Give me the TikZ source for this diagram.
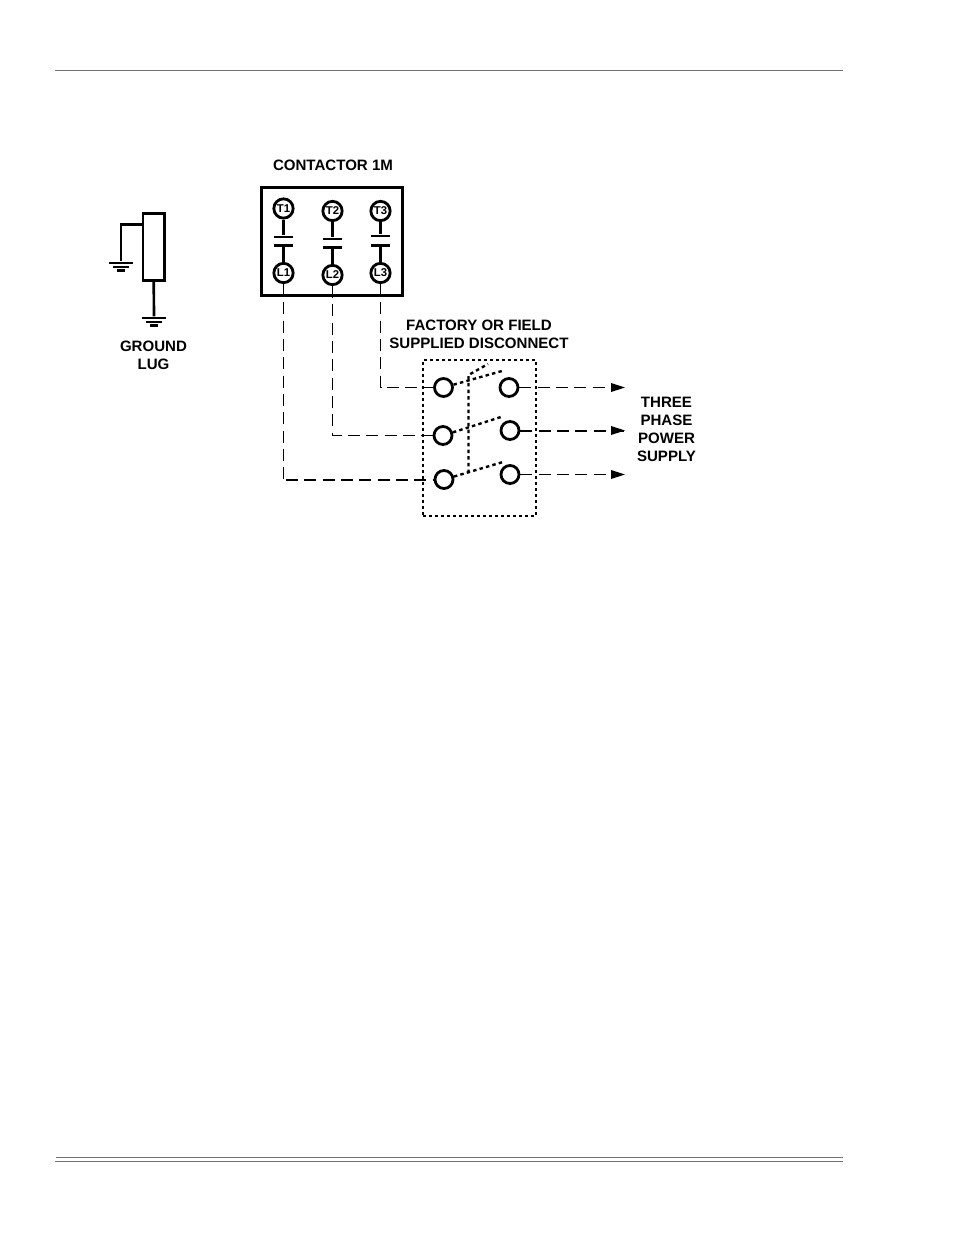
\documentclass[tikz,border=0pt]{standalone}
\usepackage{fontspec}
\setmainfont{Liberation Sans}
\tikzset{term/.style={circle,draw,line width=2.1pt,fill=white,inner sep=0pt,minimum size=14.5pt,font=\fontsize{8.5}{9}\selectfont\bfseries},
	 sw/.style={circle,draw,line width=2.1pt,fill=white,inner sep=0pt,minimum size=13.5pt},
	 plate/.style={rectangle,fill=black,inner sep=0pt,minimum width=14pt,minimum height=2pt},
	 bar/.style={rectangle,fill=black,inner sep=0pt,minimum height=2pt},
	 lead/.style={line width=2pt},
	 lbl/.style={font=\fontsize{11.3}{13.5}\selectfont\bfseries,align=center,inner sep=0pt},
	 wire/.style={line width=0.75pt,dash pattern=on 9pt off 4.75pt},
	 wirethick/.style={line width=1.5pt,dash pattern=on 9pt off 4.75pt},
	 blade/.style={line width=1.8pt,dash pattern=on 2.6pt off 2.4pt},
	 dots/.style={line width=2.1pt,dash pattern=on 2.1pt off 2.4pt},
	 rule/.style={draw=black!55,line width=0.85pt}
	 }

\begin{document}
\begin{tikzpicture}[x=0.75pt,y=-0.75pt]
	\useasboundingbox (0,0) rectangle (954,1235);
	% page rules
	\coordinate (r1) at (55,70.5); \coordinate (r2) at (843,70.5);
	\coordinate (r3) at (56,1157.5); \coordinate (r4) at (843,1157.5);
	\coordinate (r5) at (55,1161.5); \coordinate (r6) at (843,1161.5);
	\draw[rule] (r1) to (r2);
	\draw[rule] (r3) to (r4);
	\draw[rule] (r5) to (r6);
	% ground lug
	\node[rectangle,draw,line width=2pt,fill=white,inner sep=0pt,minimum width=16pt,minimum height=50.5pt] (lug) at (153.5,247) {};
	\node[bar,minimum width=18pt] (g1a) at (121,263) {};
	\node[bar,minimum width=12pt] (g1b) at (121,267) {};
	\node[bar,minimum width=6pt] (g1c) at (121,270.5) {};
	\node[bar,minimum width=18pt] (g2a) at (154,318) {};
	\node[bar,minimum width=12pt] (g2b) at (154,322) {};
	\node[bar,minimum width=6pt] (g2c) at (154,325.5) {};
	\coordinate (lugw) at (143,224.5);
	\draw[lead] (lugw) -| (g1a);
	\draw[lead] (lug) to (g2a);
	\node[lbl] (luglbl) at (153.5,355) {GROUND\\LUG};
	% contactor
	\node[lbl] (conlbl) at (333,165) {CONTACTOR 1M};
	\node[rectangle,draw,line width=2.4pt,inner sep=0pt,minimum width=105.5pt,minimum height=81pt] (con) at (332,241.5) {};
	\node[term] (t1) at (283.5,208.5) {T1};
	\node[term] (t2) at (332.5,211) {T2};
	\node[term] (t3) at (380.5,211) {T3};
	\node[term] (l1) at (283.5,273) {L1};
	\node[term] (l2) at (332.5,275) {L2};
	\node[term] (l3) at (380.5,273) {L3};
	\node[plate] (pt1) at (283.5,237) {};
	\node[plate] (pt2) at (332.5,239) {};
	\node[plate] (pt3) at (380.5,236) {};
	\node[plate] (pl1) at (283.5,245.5) {};
	\node[plate] (pl2) at (332.5,247.5) {};
	\node[plate] (pl3) at (380.5,245.5) {};
	\foreach \i in {1,2,3}{
		\draw[lead] (t\i) to (pt\i);
		\draw[lead] (pl\i) to (l\i);
	}
	% disconnect
	\node[lbl] (dislbl) at (479,334) {FACTORY OR FIELD\\SUPPLIED DISCONNECT};
	\node[rectangle,draw,dots,inner sep=0pt,minimum width=84.75pt,minimum height=117pt] (dis) at (479.5,438) {};
	\node[sw] (a1) at (443.5,387.5) {};
	\node[sw] (a2) at (443,435.5) {};
	\node[sw] (a3) at (444,479.5) {};
	\node[sw] (b1) at (509,387.5) {};
	\node[sw] (b2) at (510,430.5) {};
	\node[sw] (b3) at (510,474.5) {};
	\coordinate (e1) at (502,371); \coordinate (e2) at (501,417); \coordinate (e3) at (503,462);
	\draw[blade] (a1) to (e1);
	\draw[blade] (a2) to (e2);
	\draw[blade] (a3) to (e3);
	\coordinate (k1) at (468.5,473); \coordinate (k2) at (468.5,375); \coordinate (k3) at (488,364);
	\draw[blade] (k1) to (k2) to (k3);
	% wires
	\draw[wire] (l3) |- (a1);
	\draw[wire] (l2) |- (a2);
	\coordinate (c1) at (283.5,479.5);
	\coordinate (c2) at (286,479.5);
	\draw[wire] (l1) to (c1);
	\draw[wirethick] (c2) to (a3);
	% supply
	\coordinate (p1) at (625,387.5); \coordinate (p2) at (625,430.5); \coordinate (p3) at (625,474.5);
	\node[lbl] (suplbl) at (666.5,429) {THREE\\PHASE\\POWER\\SUPPLY};
	\draw[wire] (b1) to (p1);
	\draw[wirethick] (b2) to (p2);
	\draw[wire] (b3) to (p3);
	\fill (p1) -- ++(-14,-4.5) -- ++(0,9) -- cycle;
	\fill (p2) -- ++(-14,-4.5) -- ++(0,9) -- cycle;
	\fill (p3) -- ++(-14,-4.5) -- ++(0,9) -- cycle;
\end{tikzpicture}
\end{document}
